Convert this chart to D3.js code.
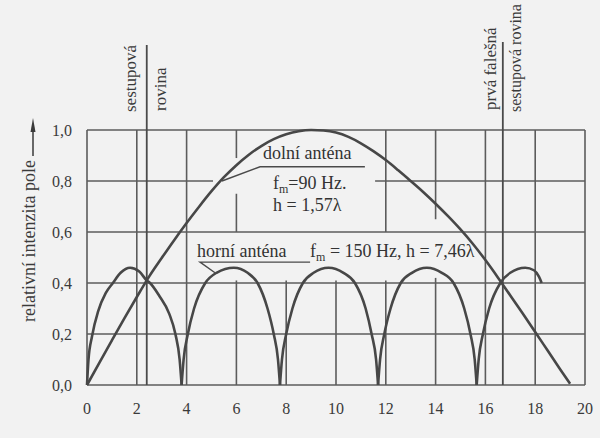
<!DOCTYPE html>
<html><head><meta charset="utf-8">
<script src="https://cdn.jsdelivr.net/npm/d3@7/dist/d3.min.js"></script>
<style>
html,body{margin:0;padding:0;background:#f2f2f2;}
svg{display:block;}
svg text{font-family:"Liberation Serif","Times New Roman","DejaVu Serif",serif;}
</style>
</head><body>
<svg id="chart" width="600" height="438"></svg>
<script>
// ---- data ----
const xTicks = [0, 2, 4, 6, 8, 10, 12, 14, 16, 18, 20];
const yTicks = [0, 0.2, 0.4, 0.6, 0.8, 1.0];

// dolní anténa (f_m = 90 Hz, h = 1,57λ)
const dolniX = [0, 0.5, 1, 1.5, 2, 2.5, 3, 3.5, 4, 4.5, 5, 5.5, 6, 6.5, 7, 7.5, 8, 8.5, 9, 9.5, 10, 10.5, 11, 11.5, 12, 12.5, 13, 13.5, 14, 14.5, 15, 15.5, 16, 16.5, 17, 17.5, 18, 18.5, 19, 19.4];
const dolniY = [0, 0.088, 0.175, 0.261, 0.345, 0.426, 0.498, 0.568, 0.635, 0.699, 0.76, 0.815, 0.862, 0.903, 0.937, 0.964, 0.983, 0.995, 1.0, 0.998, 0.99, 0.973, 0.948, 0.917, 0.882, 0.842, 0.80, 0.757, 0.711, 0.662, 0.61, 0.553, 0.49, 0.422, 0.351, 0.28, 0.208, 0.135, 0.062, 0.005];

// horní anténa (f_m = 150 Hz, h = 7,46λ)
const horniX = [0, 0.06, 0.2, 0.45, 0.75, 1.04, 1.35, 1.73, 2.1, 2.4, 2.53, 2.9, 3.3, 3.55, 3.72, 3.8,
  3.88, 4.05, 4.3, 4.75, 5.2, 5.9, 6.45, 6.85, 7.25, 7.5, 7.67, 7.75,
  7.83, 8.0, 8.25, 8.67, 9.1, 9.7, 10.3, 10.76, 11.19, 11.43, 11.61, 11.69,
  11.77, 11.94, 12.19, 12.6, 13.05, 13.65, 14.25, 14.72, 15.15, 15.4, 15.57, 15.65,
  15.73, 15.9, 16.15, 16.6, 17.0, 17.6, 17.95, 18.15, 18.26];
const horniY = [0, 0.10, 0.19, 0.29, 0.36, 0.40, 0.44, 0.46, 0.445, 0.41, 0.40, 0.35, 0.28, 0.20, 0.10, 0,
  0.10, 0.20, 0.30, 0.40, 0.44, 0.46, 0.44, 0.40, 0.30, 0.20, 0.10, 0,
  0.10, 0.20, 0.30, 0.40, 0.44, 0.46, 0.44, 0.40, 0.30, 0.20, 0.10, 0,
  0.10, 0.20, 0.30, 0.40, 0.44, 0.46, 0.44, 0.40, 0.30, 0.20, 0.10, 0,
  0.10, 0.20, 0.30, 0.40, 0.44, 0.46, 0.45, 0.425, 0.40];

// sestupová rovina markers (x) and how high they rise (y, above the frame)
const markerX = [2.4, 16.7];
const markerTop = [1.333, 1.345];

// grid: vertical [x, yFrom, yTo], horizontal [y, xFrom, xTo]
const gridV = [[0,0,1],[2,0,1],[4,0,1],[6,0,0.41],[6,0.6,0.75],[6,0.89,1],[8,0,0.41],[10,0,0.41],
  [12,0,0.41],[12,0.6,1],[14,0,0.42],[14,0.65,1],[16,0,1],[18,0,1],[20,0,1]];
const gridH = [[0,0,20],[0.2,0,20],[0.4,0,20],[0.6,0,20],[0.8,0,5.06],[0.8,11.57,20],[1,0,20]];

// ---- drawing ----
const svg = d3.select("#chart");
const x = d3.scaleLinear().domain([0, 20]).range([87, 585]);
const y = d3.scaleLinear().domain([0, 1]).range([385, 130]);
const ink = "#474747";

// grid
svg.append("g").selectAll("line").data(gridV).join("line")
  .attr("x1", d => x(d[0])).attr("x2", d => x(d[0]))
  .attr("y1", d => y(d[1])).attr("y2", d => y(d[2]))
  .attr("stroke", "#5c5c5c").attr("stroke-width", 1.6);
svg.append("g").selectAll("line").data(gridH).join("line")
  .attr("y1", d => y(d[0])).attr("y2", d => y(d[0]))
  .attr("x1", d => x(d[1])).attr("x2", d => x(d[2]))
  .attr("stroke", "#5c5c5c").attr("stroke-width", 1.6);

// markers
svg.append("g").selectAll("line").data(markerX).join("line")
  .attr("x1", d => x(d)).attr("x2", d => x(d))
  .attr("y1", (d, i) => y(markerTop[i])).attr("y2", y(0))
  .attr("stroke", "#4a4a4a").attr("stroke-width", 1.8);

// curves
const line = d3.line().x(d => x(d[0])).y(d => y(d[1])).curve(d3.curveMonotoneX);
svg.append("path").datum(dolniX.map((v, i) => [v, dolniY[i]]))
  .attr("d", line).attr("fill", "none").attr("stroke", ink).attr("stroke-width", 2.6);

const arches = [];
let cur = [];
horniX.forEach((v, i) => {
  cur.push([v, horniY[i]]);
  if (horniY[i] === 0 && cur.length > 1) { arches.push(cur); cur = [[v, 0]]; }
});
if (cur.length > 1) arches.push(cur);
svg.append("g").selectAll("path").data(arches).join("path")
  .attr("d", line).attr("fill", "none").attr("stroke", ink).attr("stroke-width", 2.6);

// axes tick labels
const fmt = v => d3.format(".1f")(v).replace(".", ",");
svg.append("g").selectAll("text").data(yTicks).join("text")
  .attr("x", 72).attr("y", d => y(d) + 5.5)
  .attr("text-anchor", "end").attr("font-size", 16)
  .attr("fill", "#3a3a3a").text(fmt);
svg.append("g").selectAll("text").data(xTicks).join("text")
  .attr("x", d => x(d)).attr("y", 414)
  .attr("text-anchor", "middle").attr("font-size", 16)
  .attr("fill", "#3a3a3a").text(d => d);

// y axis title with arrow
svg.append("text").attr("transform", "translate(35,322) rotate(-90)")
  .attr("font-size", 18).attr("fill", "#3a3a3a")
  .text("relativní intenzita pole");
svg.append("line").attr("x1", 33).attr("x2", 33).attr("y1", 156).attr("y2", 128)
  .attr("stroke", "#3a3a3a").attr("stroke-width", 1.5);
svg.append("path").attr("d", "M33,118 L30.5,132 L35.5,132 Z").attr("fill", "#3a3a3a");

// rotated marker labels
const rot = [
  {t: "sestupová", px: 135.5, py: 112, fs: 17},
  {t: "rovina", px: 165.5, py: 111, fs: 17},
  {t: "prvá falešná", px: 495.5, py: 110, fs: 17},
  {t: "sestupová rovina", px: 520.5, py: 112, fs: 16}
];
svg.append("g").selectAll("text").data(rot).join("text")
  .attr("transform", d => `translate(${d.px},${d.py}) rotate(-90)`)
  .attr("font-size", d => d.fs).attr("fill", "#3a3a3a")
  .text(d => d.t);

// annotations
const g = svg.append("g").attr("font-size", 18).attr("fill", "#333");
g.append("text").attr("x", x(7.07)).attr("y", y(0.886)).text("dolní anténa");
const t1 = g.append("text").attr("x", x(7.47)).attr("y", y(0.769));
t1.append("tspan").text("f");
t1.append("tspan").attr("font-size", 12).attr("dy", 4).text("m");
t1.append("tspan").attr("dy", -4).text("=90 Hz.");
g.append("text").attr("x", x(7.47)).attr("y", y(0.682)).text("h = 1,57λ");
g.append("text").attr("x", x(4.42)).attr("y", y(0.502)).text("horní anténa");
const t2 = g.append("text").attr("x", x(8.96)).attr("y", y(0.502));
t2.append("tspan").text("f");
t2.append("tspan").attr("font-size", 12).attr("dy", 4).text("m");
t2.append("tspan").attr("dy", -4).text(" = 150 Hz, h = 7,46λ");

// leader lines
const leaders = [
  [[11.16, 0.856], [6.95, 0.856], [5.42, 0.80]],
  [[8.96, 0.482], [4.54, 0.482], [5.14, 0.44]]
];
const ll = d3.line().x(d => x(d[0])).y(d => y(d[1]));
svg.append("g").selectAll("path").data(leaders).join("path")
  .attr("d", ll).attr("fill", "none").attr("stroke", "#4a4a4a").attr("stroke-width", 1.4);
</script>
</body></html>
